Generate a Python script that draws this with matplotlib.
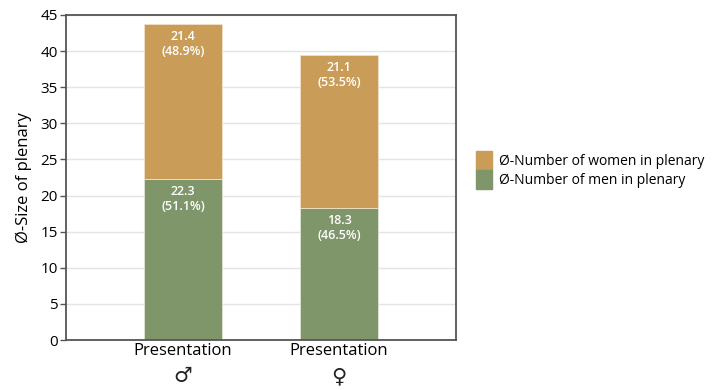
import matplotlib.pyplot as plt
from matplotlib.patches import Patch

plt.rcParams['font.family'] = ['Open Sans', 'DejaVu Sans']

# --- data ---
groups = ['Presentation', 'Presentation']
symbols = ['♂', '♀']
men = [22.3, 18.3]
women = [21.4, 21.1]
men_pct = [51.1, 46.5]
women_pct = [48.9, 53.5]

c_men = '#7f956a'
c_women = '#c99d58'

fig = plt.figure(figsize=(7.14, 3.9), dpi=100)
ax = fig.add_axes([66 / 714, 1 - 340 / 390, 390 / 714, 325 / 390])

x = list(range(len(groups)))
ax.bar(x, men, width=0.5, color=c_men, edgecolor='#dfe5d8', linewidth=0.6, zorder=2)
ax.bar(x, women, width=0.5, bottom=men, color=c_women, edgecolor='#f0e2c8', linewidth=0.6, zorder=2)

for i in x:
    ax.text(i, men[i] - 0.8, f'{men[i]:.1f}\n({men_pct[i]:.1f}%)', ha='center', va='top',
            color='white', fontsize=9, fontweight='semibold', linespacing=1.2, zorder=3)
    top = men[i] + women[i]
    ax.text(i, top - 0.8, f'{women[i]:.1f}\n({women_pct[i]:.1f}%)', ha='center', va='top',
            color='white', fontsize=9, fontweight='semibold', linespacing=1.2, zorder=3)
    # gender symbol under the tick label
    ax.text(i, -0.112, symbols[i], transform=ax.get_xaxis_transform(), ha='center', va='center',
            fontsize=15, family='DejaVu Sans', color='#222222')

ax.set_xlim(-0.75, 1.75)
ax.set_ylim(0, 45)
ax.set_yticks(range(0, 46, 5))
ax.set_xticks(x)
ax.set_xticklabels(groups, fontsize=12)
ax.tick_params(axis='x', length=0, pad=2)
ax.tick_params(axis='y', labelsize=11, length=4, color='#555555', width=1, pad=2)
ax.set_ylabel('Ø-Size of plenary', fontsize=12, labelpad=6)
ax.yaxis.grid(True, color='#e4e4e4', linewidth=1, zorder=0)
ax.set_axisbelow(True)
for s in ax.spines.values():
    s.set_color('#555555')
    s.set_linewidth(1.3)

handles = [Patch(color=c_women), Patch(color=c_men)]
labels = ['Ø-Number of women in plenary', 'Ø-Number of men in plenary']
fig.legend(handles, labels, loc='center left', bbox_to_anchor=(470 / 714, 1 - 170 / 390),
           frameon=False, fontsize=10, handlelength=1.2, handleheight=1.75,
           handletextpad=0.5, labelspacing=0.0, borderaxespad=0)

fig.savefig('out.png', dpi=100)
